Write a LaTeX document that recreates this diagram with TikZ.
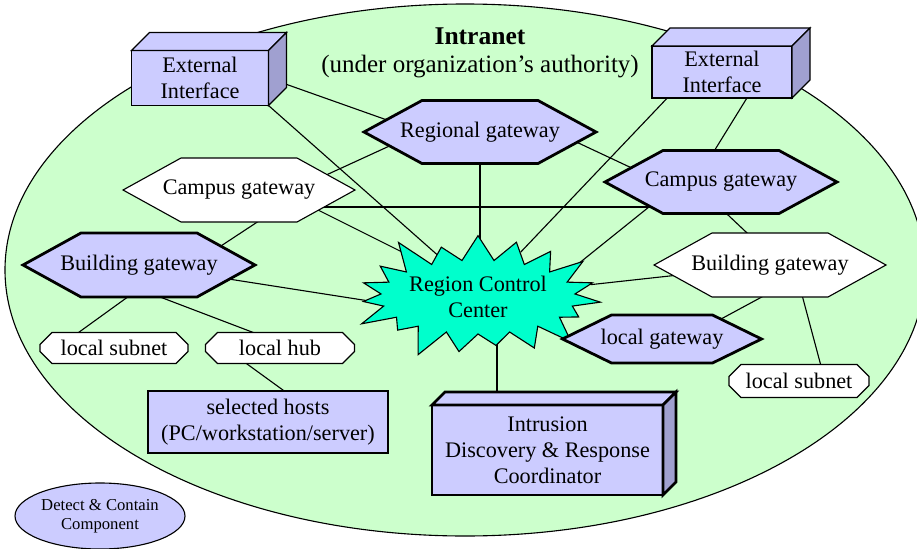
\documentclass[tikz,border=0pt]{standalone}
\usepackage{fontspec}
\setmainfont{Liberation Serif}
\usepackage{tikz}
\usetikzlibrary{shapes.misc,shapes.symbols,shapes.geometric,calc}
\definecolor{intragreen}{RGB}{204,255,204}
\definecolor{nodeblue}{RGB}{204,204,255}
\definecolor{sideblue}{RGB}{160,160,208}
\definecolor{centercyan}{RGB}{0,255,204}
\newdimen\px
\px=0.54pt
\pgfdeclarelayer{back}
\pgfdeclarelayer{wires}
\pgfsetlayers{back,wires,main}
\tikzstyle{gwshaded}=[draw, line width=1.5pt, fill=nodeblue, line join=miter]
\tikzstyle{gwplain}=[draw, line width=0.6pt, fill=white, line join=miter]
\tikzstyle{subnetbox}=[chamfered rectangle, chamfered rectangle sep=6\px, minimum height=31\px, inner sep=0pt, draw, line width=0.6pt, fill=white]
\tikzstyle{frontface}=[rectangle, draw, fill=nodeblue, align=center, inner sep=0pt, outer sep=0pt]
\tikzstyle{wire}=[line width=0.6pt]
\newcommand{\boxDepth}[3]{
	\draw[#3, fill=nodeblue, line join=miter] (#1.north west) -- ++(#2,-#2) -- ($(#1.north east)+(#2,-#2)$) -- (#1.north east) -- cycle;
	\draw[#3, fill=sideblue, line join=miter] (#1.north east) -- ++(#2,-#2) -- ($(#1.south east)+(#2,-#2)$) -- (#1.south east) -- cycle;
}
\newcommand{\hexNbox}[7]{
	\draw[#1] ($#3+(-#4,0)$) -- ($#3+(-#4+#6,-#5)$) -- ($#3+(#4-#6,-#5)$) -- ($#3+(#4,0)$) -- ($#3+(#4-#6,#5)$) -- ($#3+(-#4+#6,#5)$) -- cycle;
	\node (#2) at #3 {#7};
}

\begin{document}
\begin{tikzpicture}[x=1\px, y=-1\px, every node/.style={font=\fontsize{12}{14}\selectfont}]
	\useasboundingbox (0,0) rectangle (917,548);
	\begin{pgfonlayer}{back}
		\node[ellipse, draw, line width=0.6pt, fill=intragreen, minimum width=920\px, minimum height=532\px] (intranet) at (465,270) {};
	\end{pgfonlayer}
	\node[font=\fontsize{13.8}{16}\selectfont\bfseries] (title) at (480,36) {Intranet};
	\node[font=\fontsize{13.5}{16}\selectfont] (subtitle) at (480,67) {(under organization's authority)};
	\node[frontface, line width=0.6pt, minimum width=137\px, minimum height=55\px] (extL) at (200,78) {External\\Interface};
	\boxDepth{extL}{18}{line width=0.6pt}
	\node[frontface, line width=0.6pt, minimum width=140\px, minimum height=52\px] (extR) at (722,72) {External\\Interface};
	\boxDepth{extR}{18}{line width=0.6pt}
	\hexNbox{gwshaded}{rg}{(480,132)}{116}{31.5}{58}{Regional gateway}
	\hexNbox{gwplain}{cgl}{(239,190)}{116}{32}{58}{Campus gateway}
	\hexNbox{gwshaded}{cgr}{(721,182)}{116}{31.5}{58}{Campus gateway}
	\hexNbox{gwshaded}{bgl}{(139,265)}{116}{32}{58}{Building gateway}
	\hexNbox{gwplain}{bgr}{(770,265)}{116}{32}{58}{Building gateway}
	\node[starburst, starburst points=19, starburst point height=34\px, draw, line width=0.6pt, fill=centercyan, minimum width=262\px, minimum height=142\px, inner sep=0pt, align=center] (rcc) at (478,297) {Region Control\\Center};
	\hexNbox{gwshaded}{lg}{(662,339)}{99.5}{24}{49}{local gateway}
	\node[subnetbox, minimum width=148\px] (lsl) at (114,348) {local subnet};
	\node[subnetbox, minimum width=149\px] (lh) at (280,348) {local hub};
	\node[subnetbox, minimum width=140\px, minimum height=33\px] (lsr) at (799,381) {local subnet};
	\node[frontface, line width=1.5pt, minimum width=240\px, minimum height=62\px] (sh) at (268,422) {selected hosts\\(PC/workstation/server)};
	\node[frontface, line width=1.5pt, minimum width=231\px, minimum height=90\px] (idr) at (547.5,450) {Intrusion\\Discovery \& Response\\Coordinator};
	\boxDepth{idr}{13}{line width=1.5pt}
	\node[ellipse, draw, line width=0.6pt, fill=nodeblue, minimum width=170\px, minimum height=66\px, inner sep=0pt, align=center, font=\fontsize{9}{10}\selectfont] (dcc) at (100,516) {Detect \& Contain\\Component};
	\begin{pgfonlayer}{wires}
		\draw[wire] (extL.east) -- ($(rg)+(0,21)$);
		\draw[wire] (extL.south east) -- ($(rcc)+(-10,-15)$);
		\draw[wire] ($(extR)+(-30,0)$) -- (rcc);
		\draw[wire] ($(extR)+(41,0)$) -- ($(cgr)+(-26,0)$);
		\draw[wire] ($(rg)+(60,-7)$) -- ($(cgr)+(-21,18)$);
		\draw[wire] ($(cgl)+(61,-3)$) -- ($(rg)+(-60,0)$);
		\draw[wire] ($(cgl)+(0,17)$) -- ($(cgr)+(0,25)$);
		\draw[wire] ($(cgl)+(41,1)$) -- ($(rcc)+(-10,-12)$);
		\draw[wire] ($(bgl)+(53,0)$) -- ($(cgl)+(67,0)$);
		\draw[wire] (bgl) -- ($(rcc)+(0,21)$);
		\draw[wire] ($(bgl)+(33,0)$) -- ($(lsl)+(-50,-5)$);
		\draw[wire] ($(bgl)+(-63,0)$) -- ($(lh)+(14,0)$);
		\draw[wire] ($(lh)+(-55,0)$) -- ($(sh)+(59,0)$);
		\draw[wire] (rg) -- (rg |- rcc);
		\draw[wire] ($(idr.north west)+(65,0)$) -- ($(rcc)+(19,0)$);
		\draw[wire] ($(cgr)+(-41,0)$) -- ($(rcc)+(59,0)$);
		\draw[wire] ($(cgr)+(-28,0)$) -- ($(bgr)+(11,0)$);
		\draw[wire] (bgr) -- (rcc);
		\draw[wire] ($(bgr)+(51,0)$) -- ($(lg)+(22,0)$);
		\draw[wire] ($(bgr)+(24,0)$) -- ($(lsr)+(26,0)$);
	\end{pgfonlayer}
\end{tikzpicture}
\end{document}
